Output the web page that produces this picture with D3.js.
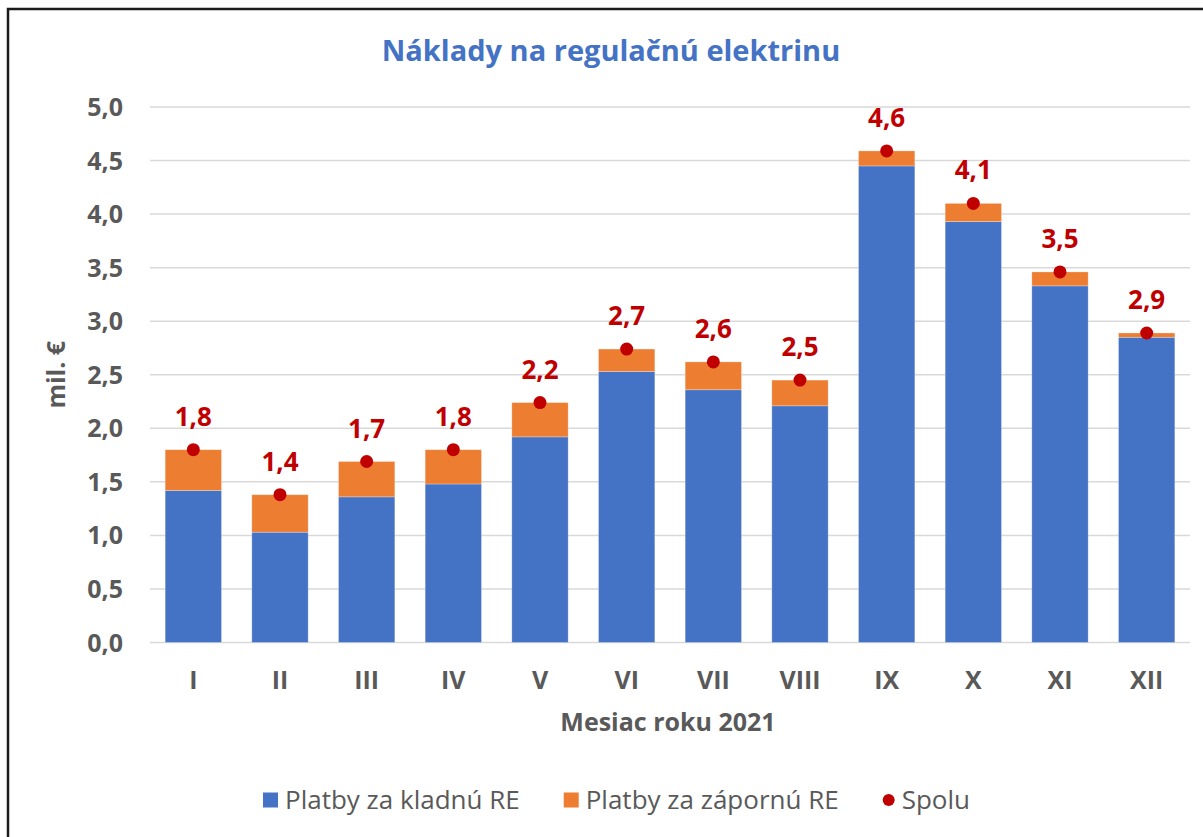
<!DOCTYPE html>
<html>
  <head>
    <title>Náklady na regulačnú elektrinu</title>
    <script src="https://d3js.org/d3.v7.min.js"></script>
    <style>
      body { margin: 0; background: #fff; }
      text { font-family: "Open Sans", sans-serif; }
      .title { font-size: 29px; font-weight: bold; fill: #4472C4; }
      .axis text { font-size: 25px; font-weight: bold; fill: #595959; }
      .axis__label { font-size: 25px; font-weight: bold; fill: #595959; }
      .data-label { font-size: 26px; font-weight: bold; fill: #C00000; }
      .legend text { font-size: 26px; fill: #595959; }
    </style>
  </head>
  <body>
    <svg width="1203" height="837"></svg>
    <script>
      const months = ["I", "II", "III", "IV", "V", "VI", "VII", "VIII", "IX", "X", "XI", "XII"];
      const kladna = [1.42, 1.03, 1.36, 1.48, 1.92, 2.53, 2.36, 2.21, 4.45, 3.93, 3.33, 2.85];
      const zaporna = [0.38, 0.35, 0.33, 0.32, 0.32, 0.21, 0.26, 0.24, 0.14, 0.17, 0.13, 0.04];
      const spolu = [1.80, 1.38, 1.69, 1.80, 2.24, 2.74, 2.62, 2.45, 4.59, 4.10, 3.46, 2.89];
      const yTicks = [0, 0.5, 1, 1.5, 2, 2.5, 3, 3.5, 4, 4.5, 5];
      const seriesNames = ["Platby za kladnú RE", "Platby za zápornú RE", "Spolu"];

      const colors = ["#4472C4", "#ED7D31", "#C00000"];

      const svg = d3.select("svg");
      const plotLeft = 150, plotRight = 1190, plotTop = 107, plotBottom = 642.5;

      const locale = d3.formatLocale({ decimal: ",", thousands: " ", grouping: [3], currency: ["", " €"] });
      const fmt = locale.format(".1f");

      const x = d3.scaleBand().domain(months).range([plotLeft, plotRight])
        .paddingInner(0.35)
        .paddingOuter(0.175);
      const y = d3.scaleLinear().domain([0, 5]).range([plotBottom, plotTop]);

      // frame (top + left edge only, like the cropped screenshot)
      svg.append("path")
        .attr("d", "M8,837V9H1203")
        .attr("fill", "none")
        .attr("stroke", "#1a1a1a")
        .attr("stroke-width", 2.5);

      svg.append("text")
        .attr("class", "title")
        .attr("x", 611)
        .attr("y", 61)
        .attr("text-anchor", "middle")
        .text("Náklady na regulačnú elektrinu");

      // gridlines + y labels
      const yAxis = svg.append("g").attr("class", "axis");
      yAxis.selectAll("line")
        .data(yTicks)
        .enter().append("line")
          .attr("x1", plotLeft)
          .attr("x2", plotRight)
          .attr("y1", d => y(d))
          .attr("y2", d => y(d))
          .attr("stroke", "#D9D9D9")
          .attr("stroke-width", 1.5);
      yAxis.selectAll("text")
        .data(yTicks)
        .enter().append("text")
          .attr("x", 123)
          .attr("y", d => y(d))
          .attr("dy", "0.36em")
          .attr("text-anchor", "end")
          .text(d => fmt(d));

      svg.append("text")
        .attr("class", "axis__label")
        .attr("transform", `translate(65, ${(plotTop + plotBottom) / 2}) rotate(-90)`)
        .attr("text-anchor", "middle")
        .text("mil. €");

      // stacked bars
      const table = months.map((m, i) => ({ month: m, kladna: kladna[i], zaporna: zaporna[i] }));
      const stacked = d3.stack().keys(["kladna", "zaporna"])(table);

      svg.append("g")
        .selectAll("g")
        .data(stacked)
        .enter().append("g")
          .attr("fill", (d, i) => colors[i])
        .selectAll("rect")
        .data(d => d)
        .enter().append("rect")
          .attr("x", d => x(d.data.month))
          .attr("y", d => y(d[1]))
          .attr("width", x.bandwidth())
          .attr("height", d => y(d[0]) - y(d[1]))
          .attr("stroke", "#fff")
          .attr("stroke-opacity", 0.35)
          .attr("stroke-width", 0.8);

      // x labels
      const xAxis = svg.append("g").attr("class", "axis");
      xAxis.selectAll("text")
        .data(months)
        .enter().append("text")
          .attr("x", d => x(d) + x.bandwidth() / 2)
          .attr("y", plotBottom + 46)
          .attr("text-anchor", "middle")
          .text(d => d);

      svg.append("text")
        .attr("class", "axis__label")
        .attr("x", 668)
        .attr("y", 731)
        .attr("text-anchor", "middle")
        .text("Mesiac roku 2021");

      // totals: dots + labels
      const totals = svg.append("g");
      totals.selectAll("circle")
        .data(spolu)
        .enter().append("circle")
          .attr("cx", (d, i) => x(months[i]) + x.bandwidth() / 2)
          .attr("cy", d => y(d))
          .attr("r", 6.5)
          .attr("fill", colors[2]);
      totals.selectAll("text")
        .data(spolu)
        .enter().append("text")
          .attr("class", "data-label")
          .attr("x", (d, i) => x(months[i]) + x.bandwidth() / 2)
          .attr("y", d => y(d) - 24)
          .attr("text-anchor", "middle")
          .text(d => fmt(d));

      // legend
      const legendG = svg.append("g").attr("class", "legend");
      const legendY = 800;
      let cursor = 263;
      seriesNames.forEach((name, i) => {
        if (i < 2) {
          legendG.append("rect")
            .attr("x", cursor)
            .attr("y", legendY - 7.5)
            .attr("width", 15)
            .attr("height", 15)
            .attr("fill", colors[i]);
          cursor += 22;
        } else {
          legendG.append("circle")
            .attr("cx", cursor + 6)
            .attr("cy", legendY)
            .attr("r", 6)
            .attr("fill", colors[i]);
          cursor += 19;
        }
        const t = legendG.append("text")
          .attr("x", cursor)
          .attr("y", legendY)
          .attr("dy", "0.36em")
          .text(name);
        cursor += t.node().getComputedTextLength() + 44;
      });
    </script>
  </body>
</html>
